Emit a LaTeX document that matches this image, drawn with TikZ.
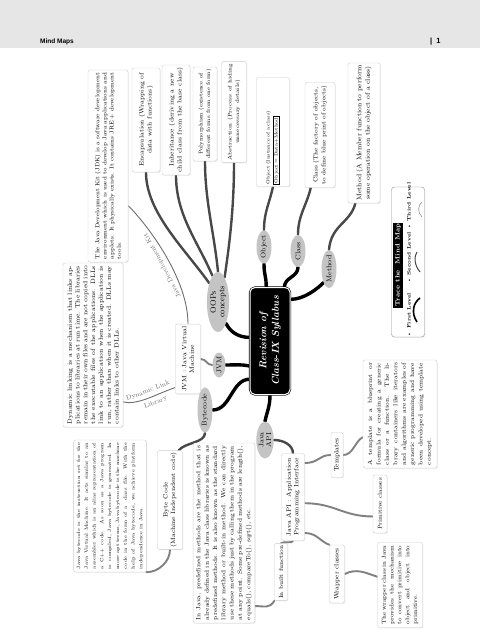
\documentclass[tikz,border=0pt]{standalone}
\usepackage{fontspec}
\usepackage{tikz}
\usetikzlibrary{positioning, shapes.geometric, backgrounds, shadows}
\newfontfamily\headfont{Liberation Sans}
\definecolor{headgray}{RGB}{230,230,230}
\definecolor{boxline}{RGB}{205,205,205}
\definecolor{legendline}{RGB}{140,140,140}
\definecolor{bubblegray}{RGB}{196,196,196}
\definecolor{branchgray}{RGB}{72,72,72}
\definecolor{leafgray}{RGB}{128,128,128}
\definecolor{linkgray}{RGB}{110,110,110}

\tikzset{
  textbox/.style={rotate=90, draw=boxline, fill=white, rounded corners=2pt,
    inner sep=3pt, align=justify,
    drop shadow={opacity=0.15, shadow xshift=0.8pt, shadow yshift=-0.8pt}},
  labelbox/.style={textbox, align=center, inner sep=2pt},
  bubble/.style={rotate=90, ellipse, fill=bubblegray, inner sep=0pt,
    align=center, font=\fontsize{7}{7.5}\selectfont},
  lvlone/.style={line width=3.4pt, black, line cap=round},
  lvltwo/.style={line width=2.4pt, branchgray, line cap=round},
  lvlthree/.style={line width=1.9pt, leafgray, line cap=round},
  linkline/.style={line width=0.9pt, linkgray},
}

\begin{document}
\begin{tikzpicture}[x=1pt, y=-1pt]
    \useasboundingbox (0,0) rectangle (480,629);
    \fill[headgray] (0,0) rectangle (480,48);
    \node[anchor=base west, inner sep=0pt,
      font=\headfont\fontsize{6.5}{7}\selectfont\bfseries] (chapter) at (40,43) {Mind Maps};
    \node[anchor=base west, inner sep=0pt,
      font=\headfont\fontsize{7.5}{8}\selectfont\bfseries] (pageno) at (430,43) {|\ \ 1};

    % centre
    \node[rotate=90, fill=black, draw=black, double=white, double distance=1pt,
      line width=0.6pt, rounded corners=5pt, minimum width=107pt, minimum height=40pt,
      text=white, align=center, font=\fontsize{10}{12.5}\selectfont\bfseries\itshape]
      (syllabus) at (270,341) {Revision of\\Class-IX Syllabus};

    % first level
    \node[bubble, minimum width=60pt, minimum height=22pt, font=\fontsize{8}{8.5}\selectfont]
      (oops) at (218,302) {OOPs\\concepts};
    \node[bubble, minimum width=25pt, minimum height=13pt] (jvm) at (219,365) {JVM};
    \node[bubble, minimum width=42pt, minimum height=15pt] (bytecode) at (205,410) {Bytecode};
    \node[bubble, minimum width=37pt, minimum height=17pt] (javaapi) at (265,440) {Java\\API};
    \node[bubble, minimum width=30pt, minimum height=15pt] (object) at (264,247) {Object};
    \node[bubble, minimum width=32pt, minimum height=15pt] (class) at (298,251) {Class};
    \node[bubble, minimum width=32pt, minimum height=15pt] (method) at (329,269) {Method};

    % second level
    \node[labelbox, minimum width=104pt, minimum height=28pt, font=\fontsize{6.2}{8}\selectfont]
      (enc) at (146,120) {Encapsulation (Wrapping of\\data with functions)};
    \node[labelbox, minimum width=110pt, minimum height=28pt, font=\fontsize{6.3}{8}\selectfont]
      (inh) at (176,120) {Inheritance (deriving a new\\child class from the base class)};
    \node[labelbox, minimum width=93pt, minimum height=24pt, font=\fontsize{5.5}{7.5}\selectfont]
      (poly) at (205,114) {Polymorphism (existence of\\different forms from one form)};
    \node[labelbox, minimum width=91pt, minimum height=25pt, font=\fontsize{5.3}{7.5}\selectfont]
      (abs) at (234,112) {Abstraction (Process of hiding\\unnecessary details)};
    \node[labelbox, align=left, text width=105pt, minimum height=33pt,
      font=\fontsize{4.6}{7}\selectfont\setlength{\fboxsep}{1pt}]
      (objbox) at (273,132) {Object (Instance of a class)\\[1pt]\fbox{Object = Data+Method\,}};
    \node[labelbox, minimum width=105pt, minimum height=30pt, font=\fontsize{6}{8}\selectfont]
      (clsbox) at (320,135) {Class (The factory of objects,\\to define blue print of objects)};
    \node[labelbox, minimum width=140pt, minimum height=32pt, font=\fontsize{6.7}{8.5}\selectfont]
      (methbox) at (364,133) {Method (A Member function to perform\\some operation on the object of a class)};
    \node[labelbox, minimum width=68pt, minimum height=25pt, font=\fontsize{6.3}{7.5}\selectfont]
      (jvmbox) at (188,359) {JVM : Java Virtual\\Machine};
    \node[labelbox, minimum width=95pt, minimum height=25pt, font=\fontsize{6.2}{7.5}\selectfont]
      (bcbox) at (170,500) {Byte Code\\(Machine Independent code)};
    \node[labelbox, minimum width=87pt, minimum height=23pt, font=\fontsize{6.3}{7.5}\selectfont]
      (apibox) at (293,497) {Java API : Application\\Programming Interface};

    % third level
    \node[labelbox, minimum width=45pt, minimum height=12pt, font=\fontsize{6.6}{7}\selectfont]
      (tmplbox) at (337,455) {Templates};
    \node[labelbox, minimum width=58pt, minimum height=14pt, font=\fontsize{5.8}{7}\selectfont]
      (prim) at (380,504) {Primitive classes};
    \node[labelbox, minimum width=58pt, minimum height=15pt, font=\fontsize{6.5}{7}\selectfont]
      (wrap) at (337,574) {Wrapper classes};
    \node[labelbox, minimum width=55pt, minimum height=13pt, font=\fontsize{6}{7}\selectfont]
      (inbuilt) at (281,572) {In built function};

    % notes
    \node[textbox, text width=186pt, minimum height=40pt, font=\fontsize{5.8}{7.2}\selectfont]
      (jdk) at (108,166) {The Java Development Kit (JDK) is a software development
      environment which is used to develop Java applications and applets. It physically
      exists. It contains JRE + development tools.};
    \node[textbox, text width=158pt, minimum height=60pt, font=\fontsize{6.3}{7.8}\selectfont]
      (dll) at (93,345) {Dynamic linking is a mechanism that links applications to
      libraries at run time. The libraries remain in their own files and are not copied
      into the executable files of the applications. DLLs link to an application when the
      application is run, rather than when it is created. DLLs may contain links to other DLLs.};
    \node[textbox, text width=126pt, minimum height=60pt, font=\fontsize{4.7}{7.8}\selectfont]
      (jbc) at (110,506) {Java bytecode is the instruction set for the Java Virtual Machine.
      It acts similar to an assembler which is an alias representation of a C++ code. As soon
      as a Java program is compiled, Java bytecode is generated. In more apt terms, Java
      bytecode is the machine code in the form of a .class file. With the help of Java
      bytecode, we achieve platform independence in Java.};
    \node[textbox, text width=174pt, minimum height=58pt, font=\fontsize{6.1}{8.3}\selectfont]
      (predef) at (224,533) {In Java, predefined methods are the method that is already
      defined in the Java class libraries is known as predefined methods. It is also known
      as the standard library method or built-in method. We can directly use these methods
      just by calling them in the program at any point. Some pre-defined methods are
      length(), equals(), compareTo(), sqrt(), etc.};
    \node[textbox, text width=102pt, minimum height=74pt, font=\fontsize{6.1}{8.4}\selectfont]
      (tmpltext) at (400,414) {\hyphenpenalty=5000\relax A template is a blueprint or
      formula for creating a generic class or a function. The library containers like
      iterators and algorithms are examples of generic programming and have been developed
      using template concept.};
    \node[textbox, text width=79pt, minimum height=45pt, font=\fontsize{5.8}{7.8}\selectfont]
      (wraptext) at (400,585) {\hyphenpenalty=5000\relax The wrapper class in Java provides
      the mechanism to convert primitive into object and object into primitive.};

    % legend
    \node[textbox, draw=legendline, rounded corners=3pt, minimum width=150pt,
      minimum height=33pt] (legend) at (408,262) {};
    \node[rotate=90, fill=black, text=white, inner sep=1pt, minimum width=85pt,
      minimum height=10pt, font=\fontsize{6.3}{7}\selectfont\bfseries]
      (legtitle) at (398,265) {Trace the\ \ Mind Map};
    \node[rotate=90, inner sep=0pt, font=\fontsize{5}{6}\selectfont\bfseries]
      (lvlfirst) at (409,315) {\textbullet\ First Level};
    \node[rotate=90, inner sep=0pt, font=\fontsize{5}{6}\selectfont\bfseries]
      (lvlsecond) at (409,258) {\textbullet\ Second Level};
    \node[rotate=90, inner sep=0pt, font=\fontsize{5}{6}\selectfont\bfseries]
      (lvlthird) at (409,206) {\textbullet\ Third Level};
    \draw[line width=1.6pt] (417,322) .. controls (411,313) and (413,303) .. (420,298);
    \draw[line width=1pt, branchgray] (420,272) .. controls (414,265) and (414,256) .. (417,252);
    \draw[line width=0.5pt, leafgray] (422,217) .. controls (417,212) and (418,205) .. (422,202);

    \begin{scope}[on background layer]
    \draw[lvlone] (syllabus.80) .. controls +(-12,0) and +(4,8) .. (oops.south west);
    \draw[lvlone] (syllabus.141) .. controls +(-10,-2) and +(10,0) .. (jvm.south);
    \draw[lvlone] (syllabus.152) .. controls +(-18,0) and +(18,0) .. (bytecode.south);
    \draw[lvlone] (syllabus.west) .. controls +(0,12) and +(2,-10) .. (javaapi.east);
    \draw[lvlone] (syllabus.4) .. controls +(0,-12) and +(0,12) .. (object.west);
    \draw[lvlone] (syllabus.-15) .. controls +(0,-10) and +(0,10) .. (class.west);
    \draw[lvlone] (syllabus.-26) .. controls +(14,0) and +(-6,6) .. (method.north west);

    \draw[lvltwo] (oops.25) .. controls +(-25,-35) and +(0,40) .. (enc.west);
    \draw[lvltwo] (oops.12) .. controls +(-15,-35) and +(0,40) .. (inh.west);
    \draw[lvltwo] (oops.east) .. controls +(-4,-40) and +(0,40) .. (poly.west);
    \draw[lvltwo] (oops.-15) .. controls +(6,-40) and +(0,40) .. (abs.west);
    \draw[lvltwo] (object.east) .. controls +(0,-18) and +(-4,18) .. (objbox.west);
    \draw[lvltwo] (class.east) .. controls +(0,-20) and +(-4,18) .. (clsbox.170);
    \draw[lvltwo] (method.east) .. controls +(2,-25) and +(-5,20) .. (methbox.173);
    \draw[lvltwo] (bytecode.west) .. controls +(0,10) and +(6,-8) .. (bcbox.-10);
    \draw[lvlthree] (jvm.north) .. controls +(-6,0) and +(6,0) .. (jvmbox.south);
    \draw[lvltwo] (javaapi.south) .. controls +(10,0) and +(0,-8) .. (apibox.east);

    \draw[lvlthree] (apibox.-19) .. controls +(14,0) and +(-12,0) .. (tmplbox.north);
    \draw[lvlthree] (apibox.-118) .. controls +(30,0) and +(-30,0) .. (prim.150);
    \draw[lvlthree] (apibox.-162) .. controls +(12,0) and +(-10,-4) .. (wrap.north east);
    \draw[lvlthree] (apibox.west) .. controls +(0,3) and +(3,-2) .. (inbuilt.east);
    \draw[lvlthree] (inbuilt.north west) .. controls +(-5,8) and +(10,0) .. (predef.-157);
    \draw[lvlthree] (tmplbox.south) .. controls +(10,0) and +(-8,4) .. (tmpltext.122);
    \draw[lvlthree] (wrap.south) .. controls +(12,-6) and +(-12,-4) .. (wraptext.70);
    \draw[lvlthree] (bcbox.west) .. controls +(0,12) and +(12,0) .. (jbc.south west);

    \draw[linkline] (jvmbox.east) .. controls +(0,-45) and +(20,20) .. (jdk.-153)
      node[pos=0.45, sloped, allow upside down, above=1pt, font=\fontsize{6.5}{7}\selectfont]
      {Java Development Kit};
    \draw[linkline] (dll.-152) .. controls +(14,4) and +(-18,6) .. (jvmbox.156)
      node[pos=0.55, sloped, above, font=\fontsize{6.5}{7}\selectfont] {Dynamic Link}
      node[pos=0.6, sloped, below, font=\fontsize{6.5}{7}\selectfont] {Library};
    \end{scope}
\end{tikzpicture}
\end{document}
